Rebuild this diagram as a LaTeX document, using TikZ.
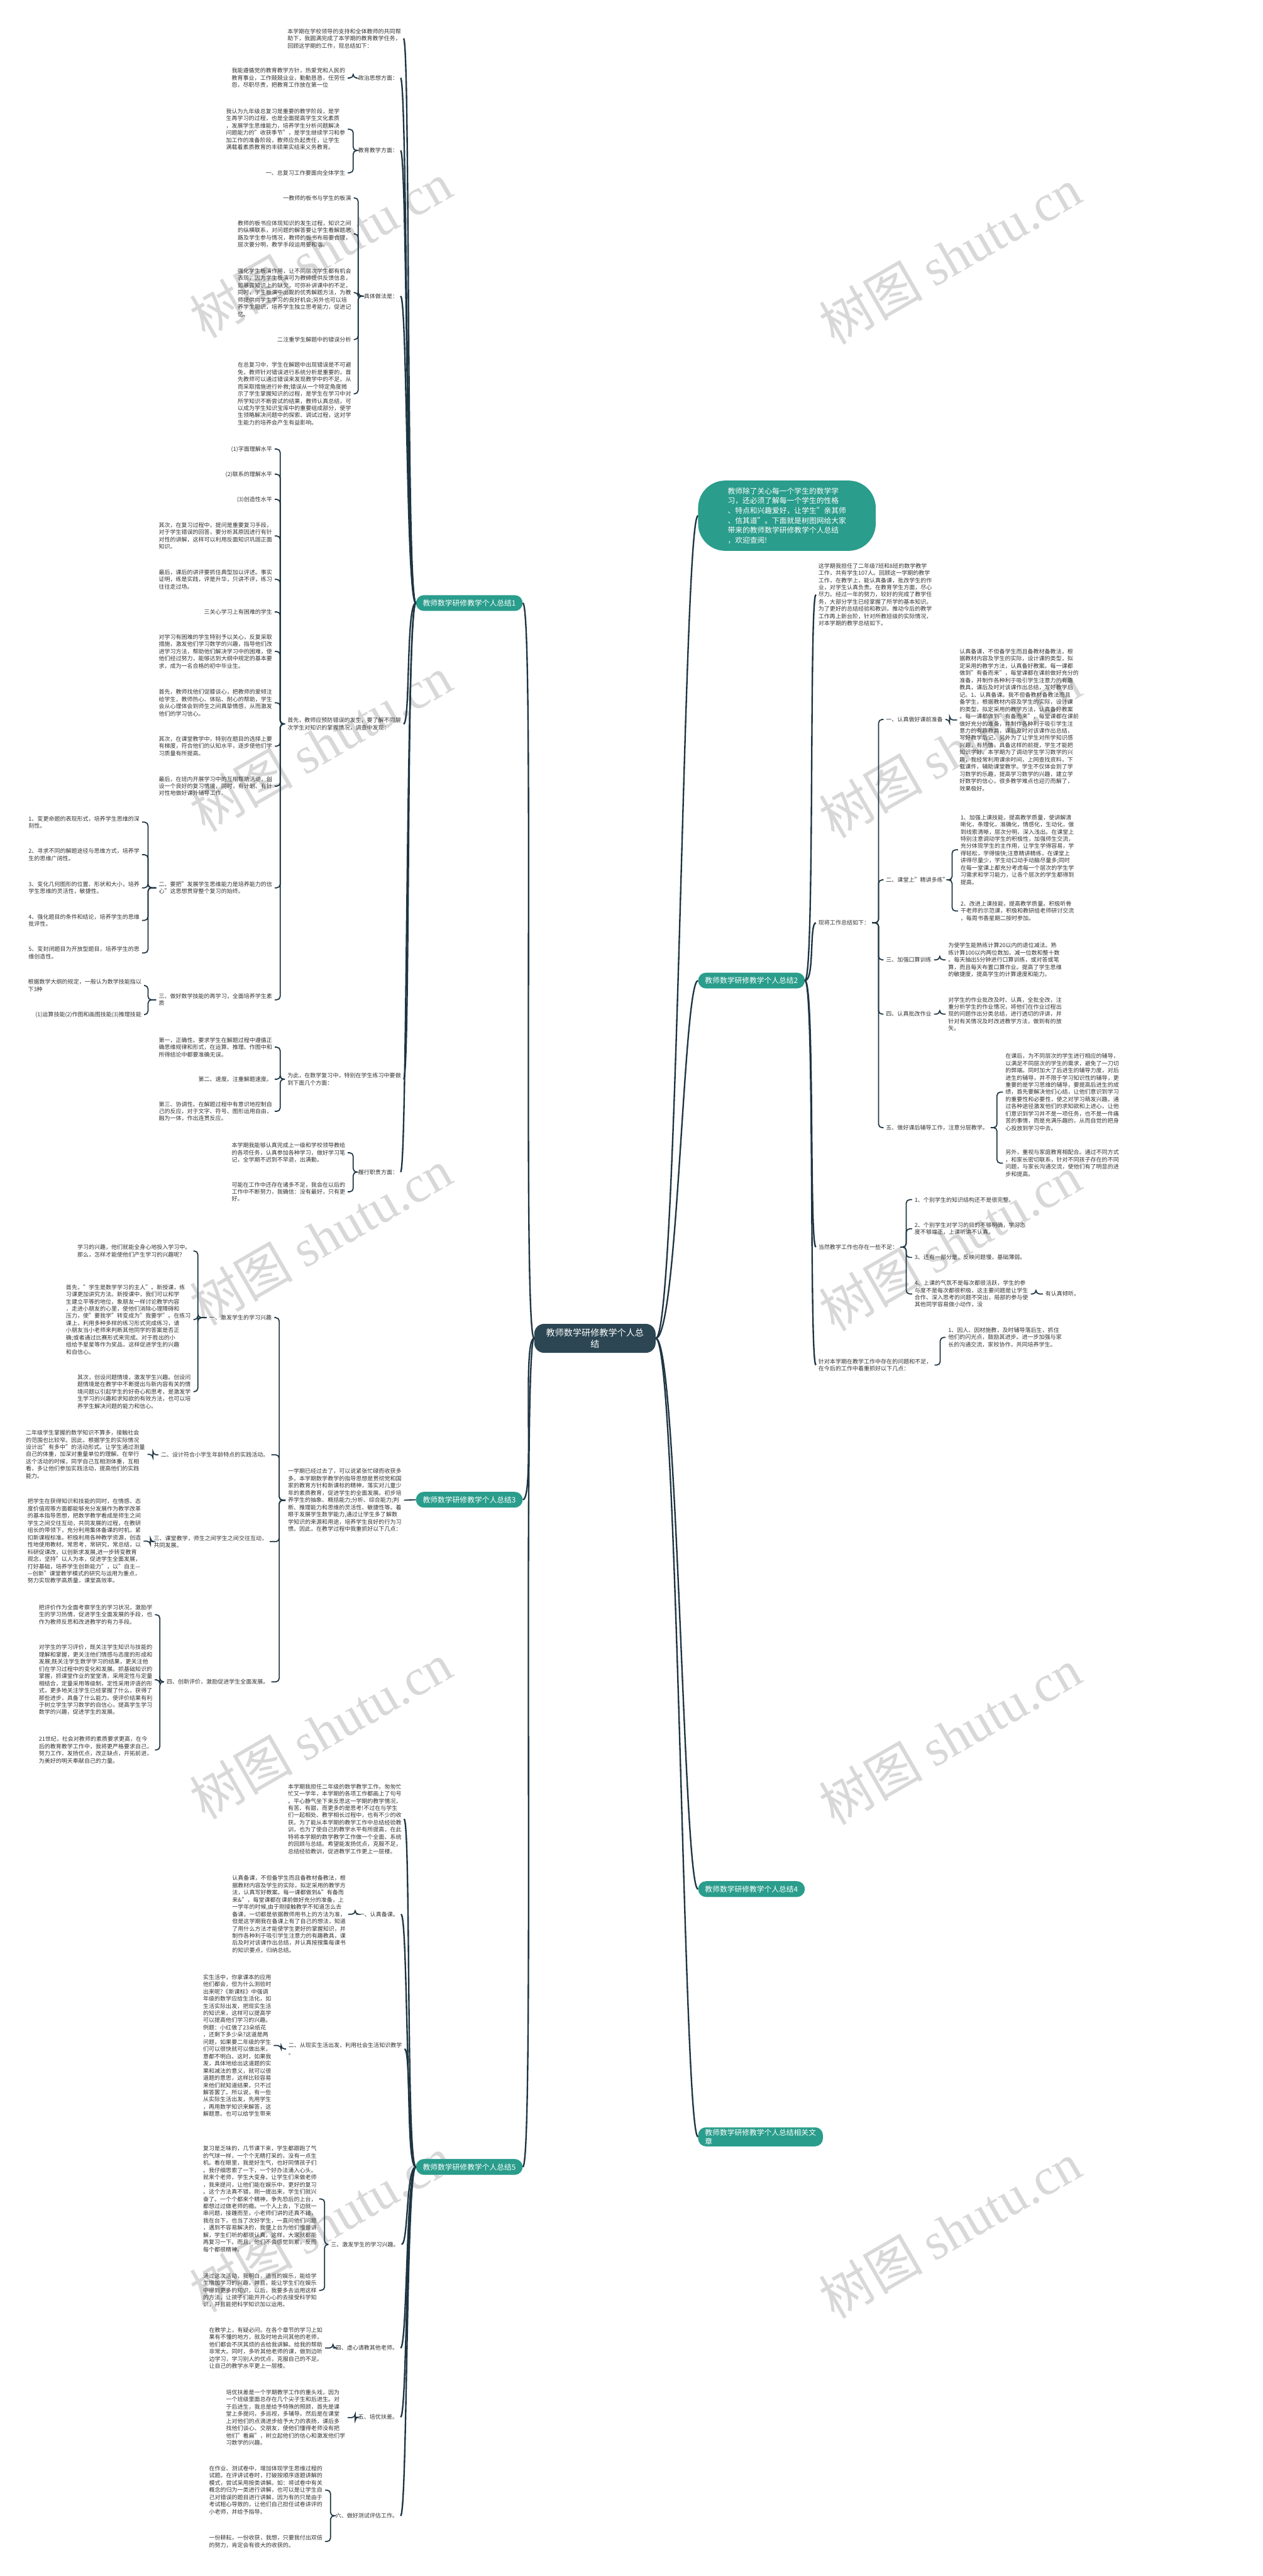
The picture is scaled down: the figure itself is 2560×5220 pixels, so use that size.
\documentclass[tikz,border=0pt]{standalone}
\usepackage{fontspec}
\setmainfont{Noto Sans CJK SC}
\newfontfamily\wmserif{Liberation Serif}
\definecolor{linec}{HTML}{1E3543}
\definecolor{txtc}{HTML}{333333}
\definecolor{tealc}{HTML}{2A9D8C}
\definecolor{darkc}{HTML}{2C4753}
\definecolor{wmc}{HTML}{D8D8D8}
\tikzset{
 txt/.style={font=\fontsize{11.5}{14.6}\selectfont, text=txtc, align=left, inner xsep=5pt, inner ysep=1pt},
 c1/.style={draw=linec, line width=3pt},
 c2/.style={draw=linec, line width=2.2pt, rounded corners=7pt},
 bn/.style={fill=tealc, text=white, font=\fontsize{15}{18}\selectfont, rounded corners=16pt, inner xsep=14pt, minimum height=32pt},
 wmark/.style={text=wmc, font=\fontsize{105}{105}\selectfont, rotate=30},
}
\newcommand\lbr[3]{\draw[c2] (#1.west) -- (#1.west -| #3,0) |- (#2.east);}
\newcommand\rbr[3]{\draw[c2] (#1.east) -- (#1.east -| #3,0) |- (#2.west);}
\newcommand\lcv[2]{\draw[c1] (#1.west) .. controls +(-20,0) and +(14,0) .. (#2.east);}
\newcommand\rcv[2]{\draw[c1] (#1.east) .. controls +(20,0) and +(-14,0) .. (#2.west);}
\begin{document}
\begin{tikzpicture}[x=1pt,y=-1pt]
\useasboundingbox (0,0) rectangle (2560,5220);
\fill[white] (0,0) rectangle (2560,5220);
\foreach \k in {0,...,4}{
 \node[wmark] (wl\k) at (650,507+1000*\k) {树图 {\wmserif shutu.cn}};
 \node[wmark] (wr\k) at (1926,519+1000*\k) {树图 {\wmserif shutu.cn}};
}
% center
\node[fill=darkc, text=white, font=\fontsize{18}{22}\selectfont, align=center, rounded corners=20pt, inner xsep=24pt, inner ysep=10pt] (C) at (1206,2712) {教师数学研修教学个人总\\结};
\node[bn, anchor=west] (B1) at (843,1222) {教师数学研修教学个人总结1};
\node[bn, anchor=west] (B2) at (1415,1987) {教师数学研修教学个人总结2};
\node[bn, anchor=west] (B3) at (843,3039) {教师数学研修教学个人总结3};
\node[bn, anchor=west] (B4) at (1415,3828) {教师数学研修教学个人总结4};
\node[bn, anchor=west] (B5) at (843,4391) {教师数学研修教学个人总结5};
\node[bn, anchor=west, align=left] (B6) at (1415,4330) {教师数学研修教学个人总结相关文\\章};
\node[fill=tealc, text=white, font=\fontsize{15}{20}\selectfont, align=left, rounded corners=55pt, inner xsep=60pt, inner ysep=14pt, anchor=west] (G) at (1415,1045) {教师除了关心每一个学生的数学学\\习，还必须了解每一个学生的性格\\、特点和兴趣爱好，让学生"亲其师\\、信其道"。下面就是树图网给大家\\带来的教师数学研修教学个人总结\\，欢迎查阅!};
\foreach \b in {B1,B3,B5}{\draw[c1] (C.west) .. controls +(-25,0) and +(25,0) .. (\b.east);}
\foreach \b in {G,B2,B4,B6}{\draw[c1] (C.east) .. controls +(45,0) and +(-30,0) .. (\b.west);}

% ---------------- branch 1
\node[txt, anchor=east] (b1t1) at (818,78) {本学期在学校领导的支持和全体教师的共同帮\\助下，我圆满完成了本学期的教育教学任务，\\回顾这学期的工作，现总结如下：};
\node[txt, anchor=east] (b1p) at (812,158) {政治思想方面：};
\node[txt, anchor=east] (b1pa) at (705,158) {我能遵循党的教育教学方针，热爱党和人民的\\教育事业，工作兢兢业业，勤勤恳恳，任劳任\\怨，尽职尽责，把教育工作放在第一位};
\node[txt, anchor=east] (b1j) at (812,305) {教育教学方面：};
\node[txt, anchor=east] (b1ja) at (705,262) {我认为九年级总复习是重要的教学阶段，是学\\生再学习的过程，也是全面提高学生文化素质\\，发展学生思维能力，培养学生分析问题解决\\问题能力的"收获季节"，是学生继续学习和参\\加工作的准备阶段，教师应负起责任，让学生\\满载着素质教育的丰硕果实结束义务教育。};
\node[txt, anchor=east] (b1jb) at (705,350) {一、总复习工作要面向全体学生};
\node[txt, anchor=east] (b1k) at (812,600) {具体做法是：};
\node[txt, anchor=east] (b1ka) at (717,401) {一教师的板书与学生的板演};
\node[txt, anchor=east] (b1kb) at (717,474) {教师的板书应体现知识的发生过程，知识之间\\的纵横联系，对问题的解答要让学生看解题思\\路及学生参与情况，教师的板书布局要合理，\\层次要分明，教学手段运用要和谐。};
\node[txt, anchor=east] (b1kc) at (717,593) {强化学生板演作用，让不同层次学生都有机会\\表现，因为学生板演可为教师提供反馈信息，\\如暴露知识上的缺欠，可弥补讲课中的不足，\\同时，学生板演中出现的优秀解题方法，为教\\师提供向学生学习的良好机会;另外也可以培\\养学生胆识，培养学生独立思考能力，促进记\\忆。};
\node[txt, anchor=east] (b1kd) at (717,688) {二注重学生解题中的错误分析};
\node[txt, anchor=east] (b1ke) at (717,798) {在总复习中，学生在解题中出现错误是不可避\\免，教师针对错误进行系统分析是重要的，首\\先教师可以通过错误来发现教学中的不足，从\\而采取措施进行补救;错误从一个特定角度揭\\示了学生掌握知识的过程，是学生在学习中对\\所学知识不断尝试的结果，教师认真总结，可\\以成为学生知识宝库中的重要组成部分，使学\\生领略解决问题中的探索、调试过程，这对学\\生能力的培养会产生有益影响。};
\node[txt, anchor=east] (b1s) at (818,1467) {首先，教师应预防错误的发生，要了解不同层\\次学生对知识的掌握情况，调查中发现：};
\node[txt, anchor=east] (b1s1) at (557,910) {(1)字面理解水平};
\node[txt, anchor=east] (b1s2) at (557,961) {(2)联系的理解水平};
\node[txt, anchor=east] (b1s3) at (557,1012) {(3)创造性水平};
\node[txt, anchor=east] (b1s4) at (557,1086) {其次，在复习过程中，提问是重要复习手段，\\对于学生错误的回答，要分析其原因进行有针\\对性的讲解，这样可以利用反面知识巩固正面\\知识。};
\node[txt, anchor=east] (b1s5) at (557,1174) {最后，课后的讲评要抓住典型加以评述。事实\\证明，练是实践，评是升华，只讲不评，练习\\往往走过场。};
\node[txt, anchor=east] (b1s6) at (557,1240) {三关心学习上有困难的学生};
\node[txt, anchor=east] (b1s7) at (557,1320) {对学习有困难的学生特别予以关心，反复采取\\措施，激发他们学习数学的兴趣，指导他们改\\进学习方法，帮助他们解决学习中的困难，使\\他们经过努力，能够达到大纲中规定的基本要\\求，成为一名合格的初中毕业生。};
\node[txt, anchor=east] (b1s8) at (557,1424) {首先，教师找他们促膝谈心，把教师的爱倾注\\给学生，教师热心、体贴、耐心的帮助，学生\\会从心理体会到师生之间真挚情感，从而激发\\他们的学习信心。};
\node[txt, anchor=east] (b1s9) at (557,1512) {其次，在课堂教学中，特别在题目的选择上要\\有梯度，符合他们的认知水平，逐步使他们学\\习质量有所提高。};
\node[txt, anchor=east] (b1s10) at (557,1593) {最后，在班内开展学习中的互相帮助活动，创\\设一个良好的复习情境，同时，有计划、有针\\对性地做好课外辅导工作。};
\node[txt, anchor=east] (b1s11) at (557,1799) {二、要把"发展学生思维能力是培养能力的信\\心"这思想贯穿整个复习的始终。};
\node[txt, anchor=east] (b1s11a) at (288,1666) {1、变更命题的表现形式，培养学生思维的深\\刻性。};
\node[txt, anchor=east] (b1s11b) at (288,1732) {2、寻求不同的解题途径与思维方式，培养学\\生的思维广阔性。};
\node[txt, anchor=east] (b1s11c) at (288,1799) {3、变化几何图形的位置、形状和大小，培养\\学生思维的灵活性，敏捷性。};
\node[txt, anchor=east] (b1s11d) at (288,1865) {4、强化题目的条件和结论，培养学生的思维\\批评性。};
\node[txt, anchor=east] (b1s11e) at (288,1931) {5、变封闭题目为开放型题目，培养学生的思\\维创造性。};
\node[txt, anchor=east] (b1s12) at (557,2026) {三、做好数学技能的再学习，全面培养学生素\\质};
\node[txt, anchor=east] (b1s12a) at (292,1997) {根据数学大纲的规定，一般认为数学技能指以\\下3种};
\node[txt, anchor=east] (b1s12b) at (292,2056) {(1)运算技能(2)作图和画图技能(3)推理技能};
\node[txt, anchor=east] (b1w) at (818,2187) {为此，在数学复习中，特别在学生练习中要做\\到下面几个方面：};
\node[txt, anchor=east] (b1w1) at (557,2122) {第一，正确性。要求学生在解题过程中遵循正\\确思维规律和形式，在运算、推理、作图中和\\所得结论中都要准确无误。};
\node[txt, anchor=east] (b1w2) at (557,2187) {第二、速度。注重解题速度。};
\node[txt, anchor=east] (b1w3) at (557,2252) {第三、协调性。在解题过程中有意识地控制自\\己的反应，对于文字、符号、图形运用自由，\\融为一体，作出连贯反应。};
\node[txt, anchor=east] (b1l) at (812,2375) {履行职责方面：};
\node[txt, anchor=east] (b1la) at (705,2336) {本学期我能够认真完成上一级和学校领导教给\\的各项任务，认真参加各种学习，做好学习笔\\记，全学期不迟到不早退，出满勤。};
\node[txt, anchor=east] (b1lb) at (705,2415) {可能在工作中还存在诸多不足，我会在以后的\\工作中不断努力，我确信：没有最好，只有更\\好。};
\foreach \n in {b1t1,b1p,b1j,b1k,b1s,b1w,b1l}{\lcv{B1}{\n}}
\lbr{b1p}{b1pa}{716}
\foreach \n in {b1ja,b1jb}{\lbr{b1j}{\n}{716}}
\foreach \n in {b1ka,b1kb,b1kc,b1kd,b1ke}{\lbr{b1k}{\n}{726}}
\foreach \n in {b1s1,b1s2,b1s3,b1s4,b1s5,b1s6,b1s7,b1s8,b1s9,b1s10,b1s11,b1s12}{\lbr{b1s}{\n}{568}}
\foreach \n in {b1s11a,b1s11b,b1s11c,b1s11d,b1s11e}{\lbr{b1s11}{\n}{300}}
\foreach \n in {b1s12a,b1s12b}{\lbr{b1s12}{\n}{300}}
\foreach \n in {b1w1,b1w2,b1w3}{\lbr{b1w}{\n}{568}}
\foreach \n in {b1la,b1lb}{\lbr{b1l}{\n}{716}}

% ---------------- branch 2
\node[txt, anchor=west] (b2a) at (1654,1205) {这学期我担任了二年级7班和8班的数学教学\\工作，共有学生107人。回顾这一学期的教学\\工作，在教学上，能认真备课，批改学生的作\\业，对学生认真负责。在教育学生方面，尽心\\尽力。经过一年的努力，较好的完成了教学任\\务，大部分学生已经掌握了所学的基本知识。\\为了更好的总结经验和教训，推动今后的教学\\工作再上新台阶，针对所教班级的实际情况，\\对本学期的教学总结如下。};
\node[txt, anchor=west] (b2b) at (1654,1870) {现将工作总结如下：};
\node[txt, anchor=west] (b2b1) at (1791,1458) {一、认真做好课前准备};
\node[txt, anchor=west] (b2b1a) at (1940,1459) {认真备课，不但备学生而且备教材备教法，根\\据教材内容及学生的实际，设计课的类型，拟\\定采用的教学方法，认真备好教案。每一课都\\做到"有备而来"，每堂课都在课前做好充分的\\准备，并制作各种利于吸引学生注意力的有趣\\教具，课后及时对该课作出总结，写好教学后\\记。1、认真备课。我不但备教材备教法而且\\备学生，根据教材内容及学生的实际，设计课\\的类型，拟定采用的教学方法，认真备好教案\\。每一课都做到"有备而来"，每堂课都在课前\\做好充分的准备，并制作各种利于吸引学生注\\意力的有趣教具，课后及时对该课作出总结，\\写好教学后记。另外为了让学生对所学知识感\\兴趣，有热情，具备这样的前提，学生才能把\\知识学好。本学期为了调动学生学习数学的兴\\趣，我经常利用课余时间，上网查找资料，下\\载课件，辅助课堂教学。学生不仅体会到了学\\习数学的乐趣，提高学习数学的兴趣，建立学\\好数学的信心，很多教学难点也迎刃而解了，\\效果极好。};
\node[txt, anchor=west] (b2b2) at (1791,1783) {二、课堂上"精讲多练"};
\node[txt, anchor=west] (b2b2a) at (1942,1722) {1、加强上课技能，提高教学质量，使讲解清\\晰化，条理化，准确化，情感化，生动化，做\\到线索清晰，层次分明，深入浅出。在课堂上\\特别注意调动学生的积极性，加强师生交流，\\充分体现学生的主作用，让学生学得容易，学\\得轻松，学得愉快;注意精讲精练，在课堂上\\讲得尽量少，学生动口动手动脑尽量多;同时\\在每一堂课上都充分考虑每一个层次的学生学\\习需求和学习能力，让各个层次的学生都得到\\提高。};
\node[txt, anchor=west] (b2b2b) at (1942,1846) {2、改进上课技能，提高教学质量。积极听骨\\干老师的示范课，积极和教研组老师研讨交流\\，每周书香星期二按时参加。};
\node[txt, anchor=west] (b2b3) at (1791,1945) {三、加强口算训练};
\node[txt, anchor=west] (b2b3a) at (1917,1945) {为使学生能熟练计算20以内的退位减法。熟\\练计算100以内两位数加，减一位数和整十数\\。每天抽出5分钟进行口算训练，或对答或笔\\算，而且每天布置口算作业。提高了学生思维\\的敏捷度，提高学生的计算速度和能力。};
\node[txt, anchor=west] (b2b4) at (1791,2055) {四、认真批改作业};
\node[txt, anchor=west] (b2b4a) at (1917,2055) {对学生的作业批改及时、认真，全批全改，注\\重分析学生的作业情况，将他们在作业过程出\\现的问题作出分类总结，进行透切的评讲，并\\针对有关情况及时改进教学方法，做到有的放\\矢。};
\node[txt, anchor=west] (b2b5) at (1791,2285) {五、做好课后辅导工作，注意分层教学。};
\node[txt, anchor=west] (b2b5a) at (2033,2213) {在课后，为不同层次的学生进行相应的辅导，\\以满足不同层次的学生的需求，避免了一刀切\\的弊端。同时加大了后进生的辅导力度，对后\\进生的辅导，并不限于学习知识性的辅导，更\\重要的是学习思维的辅导，要提高后进生的成\\绩，首先要解决他们心结，让他们意识到学习\\的重要性和必要性，使之对学习萌发兴趣。通\\过各种途径激发他们的求知欲和上进心，让他\\们意识到学习并不是一项任务，也不是一件痛\\苦的事情，而是充满乐趣的，从而自觉的把身\\心投放到学习中去。};
\node[txt, anchor=west] (b2b5b) at (2033,2357) {另外，重视与家庭教育相配合。通过不同方式\\，和家长密切联系，针对不同孩子存在的不同\\问题，与家长沟通交流，使他们有了明显的进\\步和提高。};
\node[txt, anchor=west] (b2c) at (1654,2527) {当然教学工作也存在一些不足：};
\node[txt, anchor=west] (b2c1) at (1849,2431) {1、个别学生的知识结构还不是很完整。};
\node[txt, anchor=west] (b2c2) at (1849,2490) {2、个别学生对学习的目的不够明确，学习态\\度不够端正，上课听讲不认真。};
\node[txt, anchor=west] (b2c3) at (1849,2548) {3、还有一部分是，反映问题慢，基础薄弱。};
\node[txt, anchor=west] (b2c4) at (1849,2622) {4、上课的气氛不是每次都很活跃，学生的参\\与度不是每次都很积极，这主要问题是让学生\\合作、深入思考的问题不突出，局部的参与使\\其他同学容易做小动作，没};
\node[txt, anchor=west] (b2c4a) at (2114,2622) {有认真倾听。};
\node[txt, anchor=west] (b2d) at (1654,2766) {针对本学期在教学工作中存在的问题和不足，\\在今后的工作中着重抓好以下几点：};
\node[txt, anchor=west] (b2d1) at (1917,2710) {1、因人、因材施教，及时辅导落后生，抓住\\他们的闪光点，鼓励其进步。进一步加强与家\\长的沟通交流，家校协作，共同培养学生。};
\foreach \n in {b2a,b2b,b2c,b2d}{\rcv{B2}{\n}}
\foreach \n in {b2b1,b2b2,b2b3,b2b4,b2b5}{\rbr{b2b}{\n}{1781}}
\rbr{b2b1}{b2b1a}{1925}
\foreach \n in {b2b2a,b2b2b}{\rbr{b2b2}{\n}{1930}}
\rbr{b2b3}{b2b3a}{1905}
\rbr{b2b4}{b2b4a}{1905}
\foreach \n in {b2b5a,b2b5b}{\rbr{b2b5}{\n}{2021}}
\foreach \n in {b2c1,b2c2,b2c3,b2c4}{\rbr{b2c}{\n}{1837}}
\rbr{b2c4}{b2c4a}{2100}
\rbr{b2d}{b2d1}{1906}

% ---------------- branch 3
\node[txt, anchor=east] (b3a) at (819,3040) {一学期已经过去了，可以说紧张忙碌而收获多\\多。本学期数学教学的指导思想是贯彻党和国\\家的教育方针和新课标的精神，落实对儿童少\\年的素质教育，促进学生的全面发展。初步培\\养学生的抽象、概括能力;分析、综合能力;判\\断、推理能力和思维的灵活性、敏捷性等。着\\眼于发展学生数学能力,通过让学生多了解数\\学知识的来源和用途，培养学生良好的行为习\\惯。因此，在教学过程中我重抓好以下几点：};
\node[txt, anchor=east] (b3a1) at (556,2670) {一、激发学生的学习兴趣};
\node[txt, anchor=east] (b3a1x) at (392,2535) {学习的兴趣，他们就能全身心地投入学习中。\\那么，怎样才能使他们产生学习的兴趣呢?};
\node[txt, anchor=east] (b3a1a) at (392,2674) {首先，"学生是数学学习的主人"。新授课，练\\习课更加讲究方法。新授课中，我们可以和学\\生建立平等的地位，象朋友一样讨论教学内容\\，走进小朋友的心里，使他们消除心理障碍和\\压力，使"要我学"转变成为"我要学"。在练习\\课上，利用多种多样的练习形式完成练习，请\\小朋友当小老师来判断其他同学的答案是否正\\确;或者通过比赛形式来完成。对于胜出的小\\组给予星星等作为奖品，这样促进学生的兴趣\\和自信心。};
\node[txt, anchor=east] (b3a1b) at (392,2820) {其次，创设问题情境，激发学生兴趣。创设问\\题情境是在教学中不断提出与新内容有关的情\\境问题以引起学生的好奇心和思考，是激发学\\生学习的兴趣和求知欲的有效方法，也可以培\\养学生解决问题的能力和信心。};
\node[txt, anchor=east] (b3a2) at (550,2948) {二、设计符合小学生年龄特点的实践活动。};
\node[txt, anchor=east] (b3a2a) at (299,2947) {二年级学生掌握的数学知识不算多，接触社会\\的范围也比较窄。因此，根据学生的实际情况\\设计出"有多中"的活动形式。让学生通过测量\\自己的体重，加深对重量单位的理解。在举行\\这个活动的时候，同学自己互相测体重，互相\\看，多让他们参加实践活动，提高他们的实践\\能力。};
\node[txt, anchor=east] (b3a3) at (547,3124) {三、课堂教学，师生之间学生之间交往互动，\\共同发展。};
\node[txt, anchor=east] (b3a3a) at (291,3123) {把学生在获得知识和技能的同时，在情感、态\\度价值观等方面都能够充分发展作为教学改革\\的基本指导思想，把数学教学看成是师生之间\\学生之间交往互动，共同发展的过程，在教研\\组长的带领下，充分利用集体备课的时机，紧\\扣新课程标准。积极利用各种教学资源，创造\\性地使用教材。常思考，常研究，常总结，以\\科研促课改，以创新求发展,进一步转变教育\\观念，坚持"以人为本，促进学生全面发展，\\打好基础，培养学生创新能力"，以"自主—\\—创新"课堂教学模式的研究与运用为重点，\\努力实现教学高质量，课堂高效率。};
\node[txt, anchor=east] (b3a4) at (550,3408) {四、创新评价，激励促进学生全面发展。};
\node[txt, anchor=east] (b3a4a) at (314,3272) {把评价作为全面考察学生的学习状况，激励学\\生的学习热情，促进学生全面发展的手段，也\\作为教师反思和改进教学的有力手段。};
\node[txt, anchor=east] (b3a4b) at (314,3404) {对学生的学习评价，既关注学生知识与技能的\\理解和掌握，更关注他们情感与态度的形成和\\发展;既关注学生数学学习的结果，更关注他\\们在学习过程中的变化和发展。抓基础知识的\\掌握，抓课堂作业的堂堂清，采用定性与定量\\相结合，定量采用等级制，定性采用评语的形\\式，更多地关注学生已经掌握了什么，获得了\\那些进步，具备了什么能力。使评价结果有利\\于树立学生学习数学的自信心，提高学生学习\\数学的兴趣，促进学生的发展。};
\node[txt, anchor=east] (b3a4c) at (314,3546) {21世纪，社会对教师的素质要求更高，在今\\后的教育教学工作中，我将更严格要求自己，\\努力工作，发扬优点，改正缺点，开拓前进，\\为美好的明天奉献自己的力量。};
\draw[c2] (B3.west) -- (b3a.east);
\foreach \n in {b3a1,b3a2,b3a3,b3a4}{\lbr{b3a}{\n}{566}}
\foreach \n in {b3a1x,b3a1a,b3a1b}{\lbr{b3a1}{\n}{401}}
\lbr{b3a2}{b3a2a}{310}
\lbr{b3a3}{b3a3a}{305}
\foreach \n in {b3a4a,b3a4b,b3a4c}{\lbr{b3a4}{\n}{324}}

% ---------------- branch 5
\node[txt, anchor=east] (b5a) at (819,3686) {本学期我担任二年级的数学教学工作。匆匆忙\\忙又一学年，本学期的各项工作都画上了句号\\。平心静气坐下来反思这一学期的教学情况，\\有苦、有甜，而更多的是思考!不过在与学生\\们一起相处、教学相长过程中，也有不少的收\\获。为了能从本学期的教学工作中总结经验教\\训，也为了使自己的教学水平有所提高，在此\\特将本学期的数学教学工作做一个全面、系统\\的回顾与总结。希望能发扬优点，克服不足，\\总结经验教训，促进教学工作更上一层楼。};
\node[txt, anchor=east] (b5b) at (813,3879) {一、认真备课。};
\node[txt, anchor=east] (b5ba) at (706,3879) {认真备课，不但备学生而且备教材备教法，根\\据教材内容及学生的实际，拟定采用的教学方\\法，认真写好教案。每一课都做到\&"有备而\\来\&"，每堂课都在课前做好充分的准备，上\\一学年的时候,由于刚接触教学不知道怎么去\\备课，一切都是依据教师用书上的方法为准，\\但是这学期我在备课上有了自己的想法，知道\\了用什么方法才能使学生更好的掌握知识，并\\制作各种利于吸引学生注意力的有趣教具，课\\后及时对该课作出总结，并认真按搜集每课书\\的知识要点，归纳总结。};
\node[txt, anchor=east] (b5c) at (820,4152) {二、从现实生活出发，利用社会生活知识教学\\。};
\node[txt, anchor=east] (b5ca) at (555,4145) {实生活中，你拿课本的应用\\他们都会，但为什么测验时\\出来呢?《新课标》中强调\\年级的数学应给生活化，如\\生活实际出发，把现实生活\\的知识来，这样可以提高学\\可以提高他们学习的兴趣。\\例题：小红做了23朵纸花\\，还剩下多少朵?这道是两\\问题，如果要二年级的学生\\们可以很快就可以做出来，\\意都不明白。这时，如果我\\发，具体地给出这道题的实\\果和减法的意义，就可以很\\道题的意思，这样比较容易\\来他们就知道结果，只不过\\解答罢了。所以说，有一些\\从实际生活出发，先用学生\\，再用数学知识来解答，这\\解题意。也可以给学生带来};
\node[txt, anchor=east] (b5d) at (814,4548) {三、激发学生的学习兴趣。};
\node[txt, anchor=east] (b5da) at (647,4456) {复习是乏味的，几节课下来，学生都跟跑了气\\的气球一样，一个个无精打采的，没有一点生\\机。看在眼里，我是好生气，也好同情孩子们\\。我仔细思索了一下，一个好办法涌入心头。\\就来个老师，学生大变身。让学生们来做老师\\，我来提问，让他们能在娱乐中，更好的复习\\。这个方法真不错，刚一提出来，学生们就兴\\奋了。一个个都来个精神，争先恐后的上台，\\都想过过做老师的瘾。一个人上去，下边就一\\串问题，接踵而至，小老师们讲的还真不错，\\我在台下，也当了次好学生，一直问他们问题\\，遇到不容易解决的，我便上台为他们慢慢讲\\解，学生们听的都很认真，这样，大家就都能\\再复习一下。而且，他们不会感觉到累，反而\\每个都很精神。};
\node[txt, anchor=east] (b5db) at (647,4641) {通过这次活动，我明白，适当的娱乐，能给学\\生增加学习的兴趣，并且，能让学生们在娱乐\\中得到更多的知识，以后，我要多去运用这样\\的方法，让孩子们能开开心心的去接受科学知\\识，并且能把科学知识加以运用。};
\node[txt, anchor=east] (b5e) at (812,4758) {四、虚心请教其他老师。};
\node[txt, anchor=east] (b5ea) at (659,4758) {在教学上，有疑必问。在各个章节的学习上如\\果有不懂的地方，就及时地去问其他的老师，\\他们都会不厌其烦的去给我讲解。给我的帮助\\非常大。同时，多听其他老师的课，做到边听\\边学习，学习别人的优点，克服自己的不足。\\让自己的教学水平更上一层楼。};
\node[txt, anchor=east] (b5f) at (812,4898) {五、培优扶差。};
\node[txt, anchor=east] (b5fa) at (705,4899) {培优扶差是一个学期教学工作的重头戏，因为\\一个班级里面总存在几个尖子生和后进生。对\\于后进生，我总是给予特殊的照顾，首先是课\\堂上多提问，多巡视，多辅导。然后是在课堂\\上对他们的点滴进步给予大力的表扬，课后多\\找他们谈心、交朋友，使他们懂得老师没有把\\他们"看扁"，树立起他们的信心和激发他们学\\习数学的兴趣。};
\node[txt, anchor=east] (b5g) at (812,5098) {六、做好测试评估工作。};
\node[txt, anchor=east] (b5ga) at (659,5046) {在作业、测试卷中，增加体现学生思维过程的\\试题。在评讲试卷时，打破按顺序逐题讲解的\\模式，尝试采用按类讲解。如：将试卷中有关\\概念的归为一类进行讲解，也可以是让学生自\\己对错误的题目进行讲解，因为有的只是由于\\考试粗心导致的，让他们自己担任试卷讲评的\\小老师，并给予指导。};
\node[txt, anchor=east] (b5gb) at (659,5150) {一份耕耘，一份收获，我想，只要我付出双倍\\的努力，肯定会有很大的收获的。};
\foreach \n in {b5a,b5b,b5c,b5d,b5e,b5f,b5g}{\lcv{B5}{\n}}
\lbr{b5b}{b5ba}{720}
\lbr{b5c}{b5ca}{570}
\foreach \n in {b5da,b5db}{\lbr{b5d}{\n}{658}}
\lbr{b5e}{b5ea}{675}
\lbr{b5f}{b5fa}{720}
\foreach \n in {b5ga,b5gb}{\lbr{b5g}{\n}{670}}
\end{tikzpicture}
\end{document}
